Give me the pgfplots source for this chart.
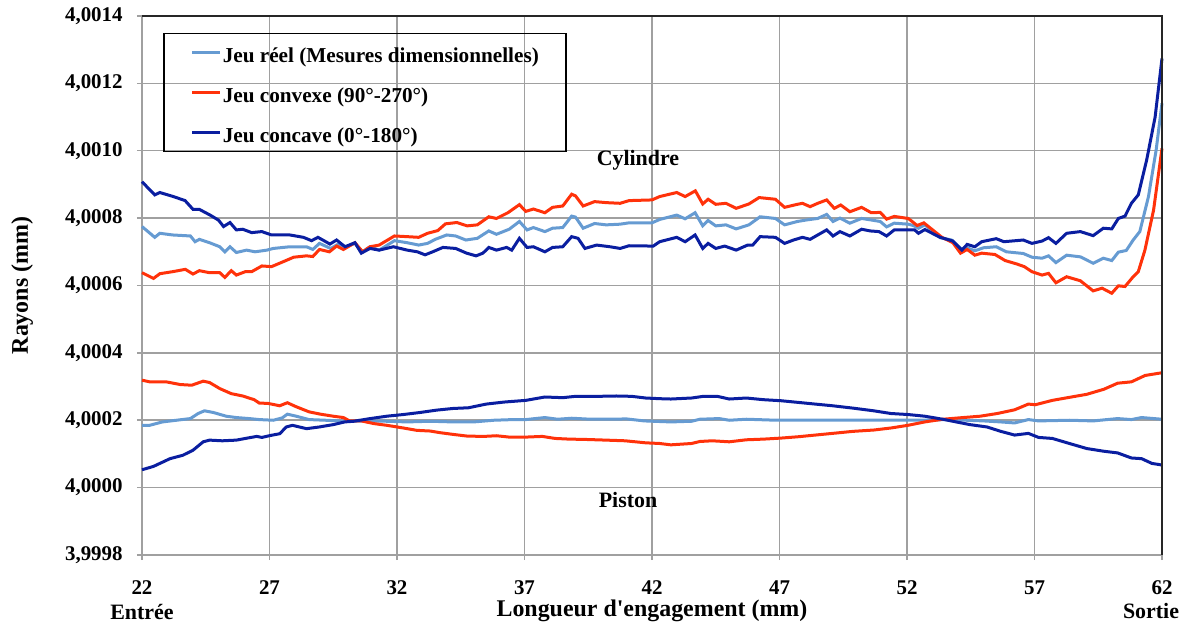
\documentclass[border=0pt]{standalone}
\usepackage{fontspec}
\setmainfont{Liberation Serif}
\usepackage{pgfplots}
\pgfplotsset{compat=1.18}
\definecolor{cReel}{RGB}{102,155,210}
\definecolor{cConv}{RGB}{255,50,10}
\definecolor{cConc}{RGB}{10,30,160}
\definecolor{cGrid}{RGB}{160,160,160}
\newcommand{\fA}{\bfseries\fontsize{10.5}{12}\selectfont}
\newcommand{\fL}{\bfseries\fontsize{10.65}{12}\selectfont}
\newcommand{\fB}{\bfseries\fontsize{11}{13}\selectfont}
\newcommand{\fC}{\bfseries\fontsize{12}{14}\selectfont}
\begin{document}
\begin{tikzpicture}
\path[use as bounding box] (-71bp,-37bp) rectangle (523bp,277.5bp);
\begin{axis}[
  scale only axis, width=510bp, height=269.5bp,
  at={(0,0)}, anchor=south west,
  xmin=22, xmax=62, ymin=-2, ymax=14,
  xtick={22,27,32,37,42,47,52,57,62},
  xticklabels={22,27,32,37,42,47,52,57,62},
  ytick={-2,0,2,4,6,8,10,12,14},
  yticklabels={{3,9998},{4,0000},{4,0002},{4,0004},{4,0006},{4,0008},{4,0010},{4,0012},{4,0014}},
  grid=major, grid style={cGrid, line width=0.75bp},
  axis line style={cGrid, line width=0.75bp},
  tick style={cGrid, line width=0.75bp},
  tick align=outside, major tick length=2.5bp, tick pos=left,
  xticklabel style={font=\fA, anchor=base, inner sep=0pt, yshift=-17bp},
  yticklabel style={font=\fA, anchor=east, inner sep=0pt, xshift=-7bp},
  xlabel={Longueur d\textquotesingle engagement (mm)},
  ylabel={Rayons (mm)},
  xlabel style={font=\fC, at={(axis description cs:0.5,-0.115)}, anchor=base},
  ylabel style={font=\fC, at={(axis description cs:-0.1118,0.5)}, anchor=base},
  clip=false,
  legend cell align=left,
  legend image code/.code={\draw[#1] (0bp,0bp) -- (14bp,0bp);},
  legend style={at={(0.0206,0.9685)}, anchor=north west, draw=black, line width=0.75bp, fill=none,
    font=\fL, inner xsep=13.5bp, inner ysep=3bp, row sep=7bp, column sep=0.5bp,
    nodes={inner sep=0pt, text height=11.5bp, text depth=1.5bp}},
  every axis plot/.append style={line width=1.5bp, no markers},
]
% Jeu reel - cylindre
\addplot[cReel] coordinates {
(22,7.75)(22.5,7.43)(22.7,7.55)(23.2,7.5)(23.9,7.47)(24.08,7.3)(24.25,7.37)(24.65,7.27)
(25.05,7.15)(25.25,7.0)(25.45,7.15)(25.7,6.98)(26.1,7.05)(26.43,7.0)(26.9,7.05)(27.15,7.1)
(27.8,7.15)(28.45,7.15)(28.7,7.07)(28.96,7.25)(29.4,7.1)(29.7,7.23)(30.0,7.15)(30.35,7.25)
(30.65,7.0)(30.94,7.15)(31.3,7.05)(31.9,7.33)(32.4,7.27)(32.85,7.2)(33.2,7.25)(33.5,7.37)
(33.95,7.5)(34.3,7.47)(34.7,7.35)(35.15,7.4)(35.6,7.62)(35.9,7.52)(36.4,7.67)(36.8,7.9)
(37.1,7.65)(37.35,7.72)(37.8,7.6)(38.1,7.7)(38.5,7.72)(38.85,8.06)(39.0,8.03)(39.3,7.7)
(39.75,7.84)(40.2,7.8)(40.75,7.82)(41.1,7.86)(42.0,7.86)(42.3,7.96)(42.97,8.09)(43.3,7.98)
(43.69,8.16)(43.99,7.77)(44.2,7.93)(44.5,7.77)(44.9,7.8)(45.3,7.68)(45.8,7.8)(46.24,8.04)
(46.84,7.99)(47.2,7.8)(47.7,7.9)(48.1,7.95)(48.5,7.99)(48.85,8.11)(49.1,7.9)(49.37,8.0)
(49.76,7.85)(50.22,7.99)(50.55,7.95)(50.95,7.9)(51.2,7.74)(51.5,7.85)(52.05,7.82)(52.25,7.78)
(52.45,7.7)(52.7,7.8)(53.3,7.42)(53.75,7.35)(54.15,7.07)(54.36,7.12)(54.66,7.03)(55.0,7.12)
(55.5,7.15)(55.9,7.0)(56.56,6.95)(56.9,6.84)(57.3,6.81)(57.55,6.88)(57.84,6.68)(58.26,6.9)
(58.8,6.85)(59.3,6.66)(59.7,6.81)(60.03,6.74)(60.29,6.99)(60.6,7.04)(60.87,7.35)(61.13,7.6)
(61.47,8.64)(61.77,10.02)(62.0,11.41)
};
\addlegendentry{Jeu réel (Mesures dimensionnelles)}
% Jeu convexe - cylindre
\addplot[cConv] coordinates {
(22,6.38)(22.45,6.21)(22.7,6.35)(23.2,6.41)(23.7,6.48)(24.0,6.34)(24.25,6.44)(24.65,6.38)
(25.05,6.38)(25.25,6.24)(25.5,6.44)(25.7,6.31)(26.05,6.41)(26.3,6.41)(26.7,6.58)(27.08,6.56)
(27.55,6.71)(27.95,6.84)(28.45,6.88)(28.7,6.86)(28.96,7.07)(29.35,7.0)(29.63,7.17)(29.9,7.07)
(30.35,7.27)(30.65,7.0)(30.94,7.15)(31.3,7.2)(31.9,7.47)(32.4,7.45)(32.85,7.43)(33.2,7.55)
(33.6,7.63)(33.9,7.83)(34.35,7.87)(34.75,7.77)(35.15,7.8)(35.6,8.04)(35.9,7.99)(36.35,8.16)
(36.8,8.4)(37.05,8.2)(37.35,8.27)(37.8,8.16)(38.1,8.32)(38.5,8.36)(38.85,8.71)(39.0,8.66)
(39.3,8.36)(39.75,8.49)(40.2,8.46)(40.75,8.44)(41.1,8.52)(42.0,8.54)(42.3,8.64)(42.97,8.76)
(43.3,8.64)(43.7,8.81)(43.99,8.42)(44.2,8.56)(44.5,8.41)(44.9,8.44)(45.3,8.29)(45.8,8.42)
(46.2,8.61)(46.84,8.56)(47.2,8.32)(47.7,8.41)(47.9,8.44)(48.2,8.34)(48.5,8.44)(48.85,8.54)
(49.15,8.29)(49.4,8.39)(49.76,8.19)(50.22,8.32)(50.6,8.16)(50.95,8.17)(51.2,7.97)(51.5,8.05)
(52.05,7.99)(52.4,7.78)(52.66,7.86)(53.37,7.43)(53.8,7.27)(54.1,6.96)(54.36,7.07)(54.66,6.9)
(54.93,6.96)(55.45,6.92)(55.85,6.74)(56.3,6.64)(56.6,6.56)(56.9,6.41)(57.3,6.31)(57.55,6.36)
(57.84,6.08)(58.26,6.26)(58.8,6.14)(59.3,5.84)(59.65,5.92)(60.03,5.77)(60.29,5.99)(60.55,5.97)
(60.87,6.26)(61.07,6.41)(61.33,7.05)(61.67,8.24)(62.0,10.07)
};
\addlegendentry{Jeu convexe (90°-270°)}
% Jeu concave - cylindre
\addplot[cConc] coordinates {
(22,9.08)(22.5,8.69)(22.7,8.76)(23.23,8.64)(23.69,8.52)(24.0,8.26)(24.25,8.26)(24.67,8.09)
(25.0,7.94)(25.2,7.75)(25.45,7.87)(25.7,7.65)(25.95,7.67)(26.3,7.57)(26.7,7.6)(27.08,7.5)
(27.8,7.5)(28.33,7.43)(28.65,7.33)(28.9,7.43)(29.37,7.23)(29.63,7.35)(29.96,7.15)(30.35,7.27)
(30.6,6.96)(30.94,7.1)(31.3,7.05)(31.86,7.15)(32.4,7.05)(32.8,7.0)(33.1,6.91)(33.4,7.0)
(33.8,7.13)(34.3,7.1)(34.73,6.96)(35.1,6.88)(35.37,6.96)(35.6,7.13)(35.9,7.05)(36.3,7.13)
(36.5,7.05)(36.8,7.4)(37.1,7.13)(37.35,7.15)(37.8,7.0)(38.1,7.13)(38.5,7.15)(38.85,7.45)
(39.1,7.4)(39.37,7.1)(39.83,7.2)(40.35,7.15)(40.75,7.1)(41.1,7.18)(42.05,7.17)(42.3,7.3)
(42.97,7.43)(43.3,7.3)(43.69,7.5)(43.99,7.1)(44.2,7.25)(44.5,7.1)(44.85,7.17)(45.3,7.05)
(45.75,7.2)(45.95,7.2)(46.24,7.45)(46.84,7.43)(47.2,7.25)(47.55,7.35)(47.9,7.43)(48.2,7.37)
(48.5,7.5)(48.85,7.65)(49.1,7.47)(49.37,7.6)(49.76,7.47)(50.22,7.67)(50.55,7.62)(50.9,7.6)
(51.2,7.47)(51.5,7.65)(52.3,7.65)(52.45,7.55)(52.7,7.66)(53.3,7.43)(53.8,7.32)(54.15,7.05)
(54.36,7.22)(54.66,7.15)(54.93,7.3)(55.5,7.39)(55.8,7.3)(56.56,7.35)(56.9,7.25)(57.3,7.32)
(57.55,7.42)(57.84,7.25)(58.26,7.55)(58.8,7.6)(59.3,7.48)(59.7,7.7)(60.03,7.68)(60.29,7.99)
(60.55,8.06)(60.8,8.44)(61.07,8.69)(61.4,9.73)(61.73,11.0)(62.0,12.74)
};
\addlegendentry{Jeu concave (0°-180°)}
% Jeu reel - piston
\addplot[cReel, forget plot] coordinates {
(22,1.85)(22.3,1.85)(22.8,1.95)(23.35,2.0)(23.9,2.05)(24.2,2.2)(24.45,2.28)(24.8,2.23)
(25.3,2.12)(25.7,2.08)(26.2,2.05)(26.6,2.02)(27.15,2.0)(27.5,2.07)(27.7,2.18)(28.05,2.12)
(28.55,2.02)(29.2,2.0)(30.0,1.97)(30.8,1.98)(31.6,1.97)(32.4,1.95)(33.3,1.97)(34.2,1.95)
(35.0,1.95)(35.8,2.0)(36.55,2.02)(37.05,2.02)(37.8,2.08)(38.3,2.03)(38.85,2.06)(39.6,2.03)
(40.4,2.03)(41.0,2.04)(41.7,1.98)(42.74,1.95)(43.55,1.97)(43.88,2.03)(44.63,2.05)(45.03,2.0)
(45.7,2.03)(46.9,2.0)(48.27,2.0)(49.6,2.0)(50.95,2.0)(52.3,2.0)(53.66,2.02)(55.0,1.98)
(55.68,1.95)(56.22,1.92)(56.76,2.02)(57.16,1.98)(58.37,2.0)(59.3,1.98)(60.26,2.05)(60.8,2.02)
(61.2,2.08)(62.0,2.03)
};
% Jeu convexe - piston
\addplot[cConv, forget plot] coordinates {
(22,3.19)(22.3,3.14)(22.95,3.14)(23.5,3.06)(23.95,3.04)(24.4,3.16)(24.65,3.12)(25.05,2.94)
(25.5,2.79)(25.95,2.72)(26.4,2.61)(26.6,2.51)(26.94,2.5)(27.4,2.43)(27.7,2.52)(28.05,2.4)
(28.55,2.25)(29.0,2.18)(29.5,2.12)(29.9,2.08)(30.14,1.98)(30.6,1.98)(31.1,1.9)(31.6,1.85)
(32.25,1.77)(32.78,1.7)(33.3,1.68)(33.7,1.63)(34.2,1.58)(34.75,1.53)(35.4,1.52)(35.9,1.54)
(36.4,1.5)(37.05,1.5)(37.7,1.52)(38.2,1.46)(38.75,1.44)(39.4,1.43)(40.2,1.41)(40.95,1.39)
(41.75,1.33)(42.3,1.31)(42.74,1.27)(43.55,1.31)(43.88,1.37)(44.36,1.39)(45.03,1.36)(45.7,1.42)
(46.38,1.44)(47.05,1.47)(47.73,1.51)(48.4,1.56)(49.08,1.61)(49.88,1.67)(50.7,1.71)(51.37,1.77)
(52.04,1.85)(52.7,1.95)(53.4,2.03)(54.2,2.08)(54.87,2.12)(55.54,2.2)(56.22,2.31)(56.76,2.48)
(57.03,2.46)(57.7,2.59)(58.37,2.68)(59.05,2.77)(59.72,2.92)(60.26,3.1)(60.8,3.14)(61.34,3.33)
(62.0,3.41)
};
% Jeu concave - piston
\addplot[cConc, forget plot] coordinates {
(22,0.53)(22.45,0.63)(23.1,0.86)(23.6,0.96)(24.0,1.11)(24.4,1.36)(24.65,1.41)(25.15,1.39)
(25.7,1.41)(26.2,1.48)(26.5,1.52)(26.7,1.49)(27.05,1.55)(27.4,1.6)(27.66,1.8)(27.9,1.85)
(28.45,1.75)(28.95,1.8)(29.5,1.87)(29.95,1.95)(30.3,1.97)(30.95,2.05)(31.6,2.12)(32.25,2.17)
(32.9,2.23)(33.55,2.3)(34.2,2.35)(34.8,2.37)(35.5,2.48)(36.2,2.54)(37.05,2.59)(37.8,2.69)
(38.5,2.67)(39.0,2.71)(39.9,2.71)(40.6,2.72)(41.2,2.71)(41.75,2.66)(42.3,2.64)(42.74,2.63)
(43.55,2.66)(44.02,2.71)(44.56,2.71)(45.03,2.63)(45.7,2.66)(46.38,2.61)(47.05,2.58)(47.73,2.53)
(48.4,2.48)(49.08,2.43)(49.88,2.36)(50.7,2.28)(51.37,2.2)(52.04,2.17)(52.7,2.12)(53.4,2.03)
(53.93,1.95)(54.47,1.87)(55.14,1.8)(55.68,1.67)(56.22,1.56)(56.76,1.61)(57.16,1.49)(57.7,1.46)
(58.37,1.31)(59.05,1.16)(59.72,1.08)(60.26,1.03)(60.8,0.88)(61.2,0.86)(61.6,0.72)(62.0,0.67)
};
\node[font=\fB] at (axis cs:41.45,9.73) {Cylindre};
\node[font=\fB] at (axis cs:41.06,-0.37) {Piston};
\node[font=\fB, anchor=base, yshift=-32bp] at (axis cs:22,-2) {Entrée};
\node[font=\fB, anchor=base, yshift=-31.5bp, xshift=-5.5bp] at (axis cs:62,-2) {Sortie};
\draw[black!85, line width=0.75bp] (rel axis cs:0,1) -- (rel axis cs:1,1) -- (rel axis cs:1,0);
\end{axis}
\end{tikzpicture}
\end{document}
